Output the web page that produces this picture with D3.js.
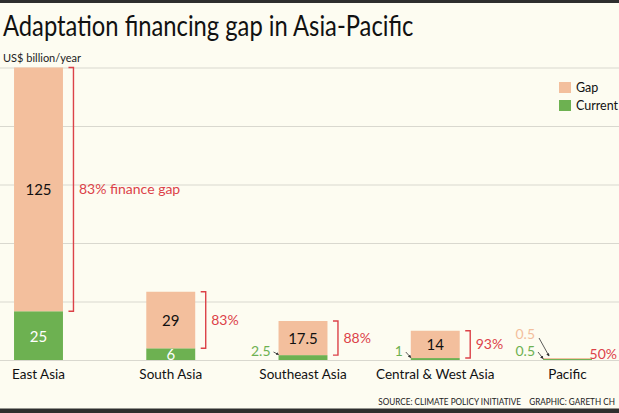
<!DOCTYPE html>
<html><head><meta charset="utf-8">
<script src="https://cdn.jsdelivr.net/npm/d3@7"></script>
<style>
html,body{margin:0;padding:0;background:#fdfcf1;overflow:hidden}
svg{display:block;font-family:Lato,"Noto Sans",sans-serif}
</style></head>
<body>
<svg id="c" width="619" height="413"></svg>
<script>
const categories = ["East Asia","South Asia","Southeast Asia","Central & West Asia","Pacific"];
const currentFinance = [25, 6, 2.5, 1, 0.5];
const gapFinance = [125, 29, 17.5, 14, 0.5];
const gapShareLabels = ["83% finance gap","83%","88%","93%","50%"];
const yTicks = [0, 30, 60, 90, 120, 150];
const legendLabels = ["Gap","Current"];
const titleText = "Adaptation financing gap in Asia-Pacific";
const unitText = "US$ billion/year";
const sourceText = "SOURCE: CLIMATE POLICY INITIATIVE";
const creditText = "GRAPHIC: GARETH CH";

const W = 619, H = 413;
const colGap = "#f3bf9d", colCur = "#6db151", colRed = "#dc4249", colGrid = "#d9d8cf";
const svg = d3.select("#c");

svg.append("rect").attr("width",W).attr("height",H).attr("fill","#fdfcf1");

const y = d3.scaleLinear().domain([0,150]).range([360,67.5]);
const step = 132.25;
const x = d3.scaleBand().domain(categories)
  .range([38.5 - step/2, 567.5 + step/2]).paddingInner(0.63).paddingOuter(0.315);
const bw = x.bandwidth();

// gridlines
const axis = d3.axisLeft(y).tickValues(yTicks).tickSize(-W).tickFormat("");
const gAxis = svg.append("g").call(axis);
gAxis.select(".domain").remove();
gAxis.selectAll("line").attr("stroke",colGrid).attr("stroke-width",1.2);

const data = categories.map((c,i)=>({cat:c, cur:currentFinance[i], gap:gapFinance[i], share:gapShareLabels[i]}));

svg.append("defs").append("marker").attr("id","ah").attr("viewBox","0 0 6 6")
  .attr("refX",5).attr("refY",3).attr("markerWidth",4).attr("markerHeight",4).attr("orient","auto")
  .append("path").attr("d","M0,0L6,3L0,6Z").attr("fill","#333");

const g = svg.append("g");
g.selectAll("rect.cur").data(data).join("rect").attr("class","cur")
  .attr("x",d=>x(d.cat)).attr("width",bw)
  .attr("y",d=>y(d.cur)).attr("height",d=>y(0)-y(d.cur)).attr("fill",colCur);
g.selectAll("rect.gap").data(data).join("rect").attr("class","gap")
  .attr("x",d=>x(d.cat)).attr("width",bw)
  .attr("y",d=>y(d.cur+d.gap)).attr("height",d=>y(d.cur)-y(d.cur+d.gap)).attr("fill",colGap);

const fs = 14;
data.forEach(d=>{
  const cx = x(d.cat)+bw/2, left = x(d.cat);
  const hGap = y(d.cur)-y(d.cur+d.gap), hCur = y(0)-y(d.cur);
  if (hGap > 8) {
    g.append("text").attr("x",cx).attr("y",y(d.cur+d.gap/2)).attr("text-anchor","middle")
      .attr("dominant-baseline","central").attr("font-size",fs+1).attr("fill","#111").text(d.gap);
  } else {
    g.append("text").attr("x",left-8).attr("y",y(d.cur)-26).attr("text-anchor","end")
      .attr("dominant-baseline","central").attr("font-size",fs).attr("fill",colGap).text(d.gap);
    g.append("line").attr("x1",left-4).attr("y1",y(d.cur)-21).attr("x2",left+6).attr("y2",y(d.cur+d.gap)-2)
      .attr("stroke","#333").attr("stroke-width",0.8).attr("marker-end","url(#ah)");
  }
  if (hCur > 8) {
    g.append("text").attr("x",cx).attr("y",y(d.cur/2)).attr("text-anchor","middle")
      .attr("dominant-baseline","central").attr("font-size",fs+1).attr("fill","#fff").text(d.cur);
  } else {
    g.append("text").attr("x",left-8).attr("y",y(0)-10).attr("text-anchor","end")
      .attr("dominant-baseline","central").attr("font-size",fs).attr("fill",colCur).text(d.cur);
    g.append("line").attr("x1",left-5).attr("y1",y(0)-8).attr("x2",left).attr("y2",y(d.cur)-0.5)
      .attr("stroke","#333").attr("stroke-width",0.8).attr("marker-end","url(#ah)");
  }
  const top = y(d.cur+d.gap), bot = y(d.cur), bx = x(d.cat)+bw+10.5;
  if (bot-top > 5) {
    g.append("path").attr("d",`M${bx-5},${top}H${bx}V${bot}H${bx-5}`)
      .attr("fill","none").attr("stroke",colRed).attr("stroke-width",1.4);
    g.append("text").attr("x",bx+5.5).attr("y",(top+bot)/2-1).attr("dominant-baseline","central")
      .attr("font-size",fs).attr("fill",colRed).text(d.share);
  } else {
    const t = g.append("text").attr("y",y(0)-7).attr("dominant-baseline","central")
      .attr("font-size",fs).attr("fill",colRed).text(d.share);
    const w = t.node().getComputedTextLength();
    t.attr("x", Math.min(x(d.cat)+bw+7, W-2-w));
  }
});

// category labels
svg.append("g").selectAll("text").data(categories).join("text")
  .attr("x",d=>x(d)+bw/2).attr("y",374).attr("text-anchor","middle").attr("dominant-baseline","central")
  .attr("font-size",13.5).attr("fill","#111").text(d=>d);

// legend
const lg = svg.append("g");
[colGap,colCur].forEach((c,i)=>{
  lg.append("rect").attr("x",559).attr("y",82+i*18).attr("width",12).attr("height",11).attr("fill",c);
  lg.append("text").attr("x",576).attr("y",87.5+i*18).attr("dominant-baseline","central")
    .attr("font-size",12.5).attr("fill","#111").text(legendLabels[i]);
});

// title
const title = svg.append("text").attr("y",36).attr("font-size",29).attr("fill","#111").text(titleText);
(function(){
  const tmp = svg.append("text").attr("font-size",29).text("Ad");
  const pre = tmp.node().getComputedTextLength(); tmp.remove();
  const full = title.node().getComputedTextLength();
  const s = 383/(full-pre+2);
  title.attr("transform",`translate(3,0) scale(${s},1)`);
})();

// unit
svg.append("text").attr("x",3).attr("y",57).attr("dominant-baseline","central")
  .attr("font-size",11).attr("fill","#222").text(unitText);

// source + credit, right-aligned inside the frame
const fSize = 10;
const tSrc = svg.append("text").attr("y",401).attr("font-size",fSize).attr("fill","#222")
  .attr("dominant-baseline","central").text(sourceText);
const s1 = 143 / tSrc.node().getComputedTextLength();
const tCred = svg.append("text").attr("y",401).attr("font-size",fSize).attr("fill","#222")
  .attr("dominant-baseline","central").text(creditText);
const wCred = tCred.node().getComputedTextLength()*s1;
const credX = W - 4 - wCred;
const srcX = credX - 8 - 143;
tCred.attr("transform",`translate(${credX},0) scale(${s1},1)`);
tSrc.attr("transform",`translate(${srcX},0) scale(${s1},1)`);

// dark frame bands
svg.append("rect").attr("x",0).attr("y",0).attr("width",W).attr("height",3).attr("fill","#2e2e2e");
svg.append("rect").attr("x",0).attr("y",408.5).attr("width",W).attr("height",4.5).attr("fill","#2e2e2e");
</script>
</body></html>
